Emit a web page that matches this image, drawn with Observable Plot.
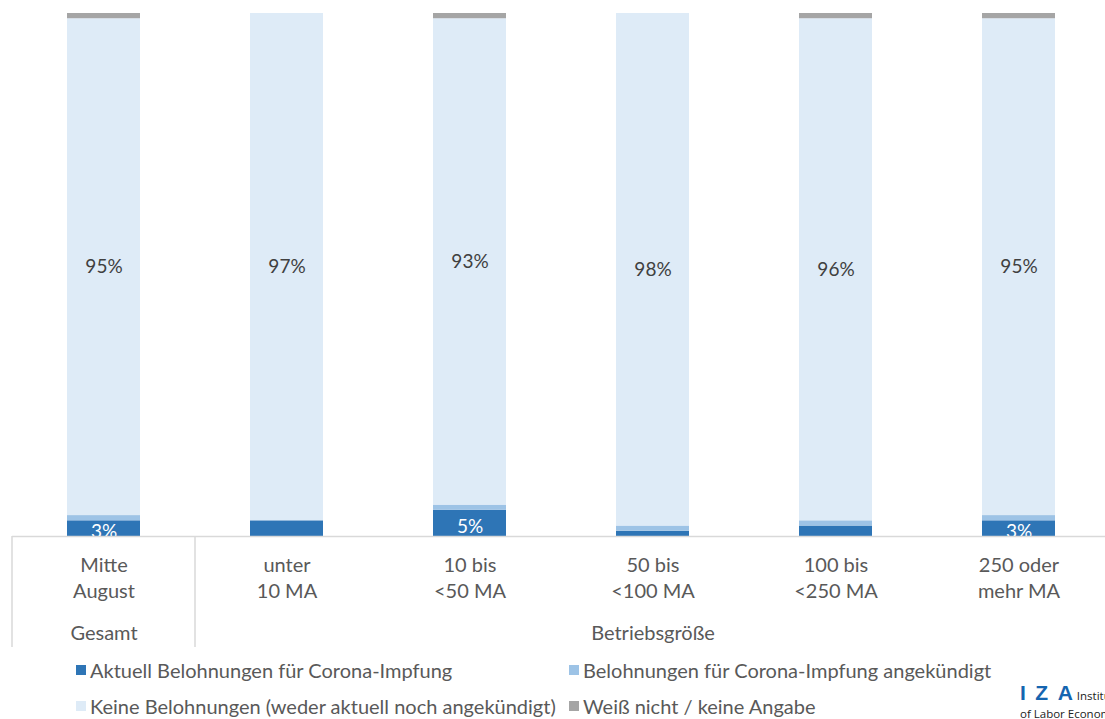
<!DOCTYPE html>
<html>
<head>
<meta charset="utf-8">
<script src="https://cdn.jsdelivr.net/npm/d3@7"></script>
<script src="https://cdn.jsdelivr.net/npm/@observablehq/plot@0.6"></script>
<style>
  html, body { margin: 0; padding: 0; background: #fff; }
  #wrap { position: relative; width: 1105px; height: 719px; overflow: hidden; font-family: Lato, "Noto Sans", sans-serif; color: #595959; }
  #chart svg { display: block; }
  .leg { position: absolute; display: flex; align-items: center; font-size: 20px; white-space: nowrap; line-height: 1; }
  .leg .sw { width: 10px; height: 10px; margin-right: 4px; }
  #iza { position: absolute; left: 1020px; top: 682px; white-space: nowrap; line-height: 1.05; }
  #iza .big { font-family: "Liberation Sans", Arial, sans-serif; font-weight: bold; color: #1565b0; font-size: 21px; }
  #iza .sp { letter-spacing: 9.5px; }
  #iza .small { font-family: "Open Sans", sans-serif; font-size: 11.5px; color: #222; }
</style>
</head>
<body>
<div id="wrap">
  <div id="chart"></div>
  <div id="legend"></div>
  <div id="iza"><span class="big"><span class="sp">IZ</span>A</span><span class="small" style="margin-left:4px">Institute</span><br><span class="small">of Labor Economics</span></div>
</div>
<script>
const categories = ["Mitte\nAugust", "unter\n10 MA", "10 bis\n<50 MA", "50 bis\n<100 MA", "100 bis\n<250 MA", "250 oder\nmehr MA"];
const seriesNames = [
  "Aktuell Belohnungen für Corona-Impfung",
  "Belohnungen für Corona-Impfung angekündigt",
  "Keine Belohnungen (weder aktuell noch angekündigt)",
  "Weiß nicht / keine Angabe"
];
const aktuell      = [3, 3, 5, 1, 2, 3];
const angekuendigt = [1, 0, 1, 1, 1, 1];
const keine        = [95, 97, 93, 98, 96, 95];
const weissNicht   = [1, 0, 1, 0, 1, 1];
const aktuellLabelShown = [true, false, true, false, false, true];
const keineLabelShown   = [true, true, true, true, true, true];
const seriesColors = ["#2e75b6", "#9dc3e6", "#deebf7", "#a5a5a5"];
const groupLabels = [
  {label: "Gesamt", category: categories[0]},
  {label: "Betriebsgröße", category: categories[3]}
];

const seriesValues = [aktuell, angekuendigt, keine, weissNicht];
const data = [];
categories.forEach((c, i) => {
  seriesValues.forEach((vals, s) => {
    data.push({
      category: c,
      series: seriesNames[s],
      value: vals[i],
      labelAktuell: s === 0 && aktuellLabelShown[i],
      labelKeine: s === 2 && keineLabelShown[i]
    });
  });
});

const font = "Lato, 'Noto Sans', sans-serif";
const W = 1105, H = 650;

const plot = Plot.plot({
  width: W,
  height: H,
  marginTop: 13,
  marginBottom: 114,
  marginLeft: 12,
  marginRight: 0,
  style: {fontFamily: font, color: "#595959", background: "white"},
  x: {domain: categories, range: [12, 1110], paddingInner: 0.6, paddingOuter: 0.3, label: null},
  y: {domain: [0, 100], axis: null},
  color: {domain: seriesNames, range: seriesColors},
  marks: [
    Plot.barY(data, Plot.stackY({x: "category", y: "value", z: "series", fill: "series", order: null})),
    Plot.text(data, Plot.stackY({
      x: "category", y: "value", z: "series", order: null,
      text: d => d.labelKeine ? `${d.value}%` : null,
      fill: "#404040", fontSize: 19
    })),
    Plot.text(data, Plot.stackY({
      x: "category", y: "value", z: "series", order: null,
      text: d => d.labelAktuell ? `${d.value}%` : null,
      fill: "white", fontSize: 19, dy: 3, clip: true
    })),
    Plot.ruleY([0], {stroke: "#d9d9d9", strokeWidth: 1.5}),
    Plot.axisX({tickSize: 0, tickPadding: 17, fontSize: 20, lineHeight: 1.3, fill: "#595959", label: null}),
    Plot.text(groupLabels, {x: "category", text: "label", frameAnchor: "bottom", dy: 103, fontSize: 20, fill: "#595959"})
  ]
});
document.getElementById("chart").appendChild(plot);

// separator lines under the axis, positioned with the plot's own scales
const xs = plot.scale("x"), ys = plot.scale("y");
const y0 = ys.apply(0);
const c0 = xs.apply(categories[0]) + xs.bandwidth / 2;
const svg = d3.select(plot);
[c0 - xs.step / 2, c0 + xs.step / 2].forEach(px => {
  svg.append("line")
    .attr("x1", px).attr("x2", px)
    .attr("y1", y0).attr("y2", y0 + 111)
    .attr("stroke", "#d9d9d9").attr("stroke-width", 1.5);
});

// legend
const legendPos = [
  {left: 76, top: 670}, {left: 569, top: 670},
  {left: 76, top: 706}, {left: 569, top: 706}
];
const legend = d3.select("#legend");
seriesNames.forEach((name, i) => {
  const item = legend.append("div").attr("class", "leg")
    .style("left", legendPos[i].left + "px")
    .style("top", (legendPos[i].top - 10) + "px")
    .style("height", "20px");
  item.append("div").attr("class", "sw").style("background", seriesColors[i]);
  item.append("span").text(name);
});
</script>
</body>
</html>
